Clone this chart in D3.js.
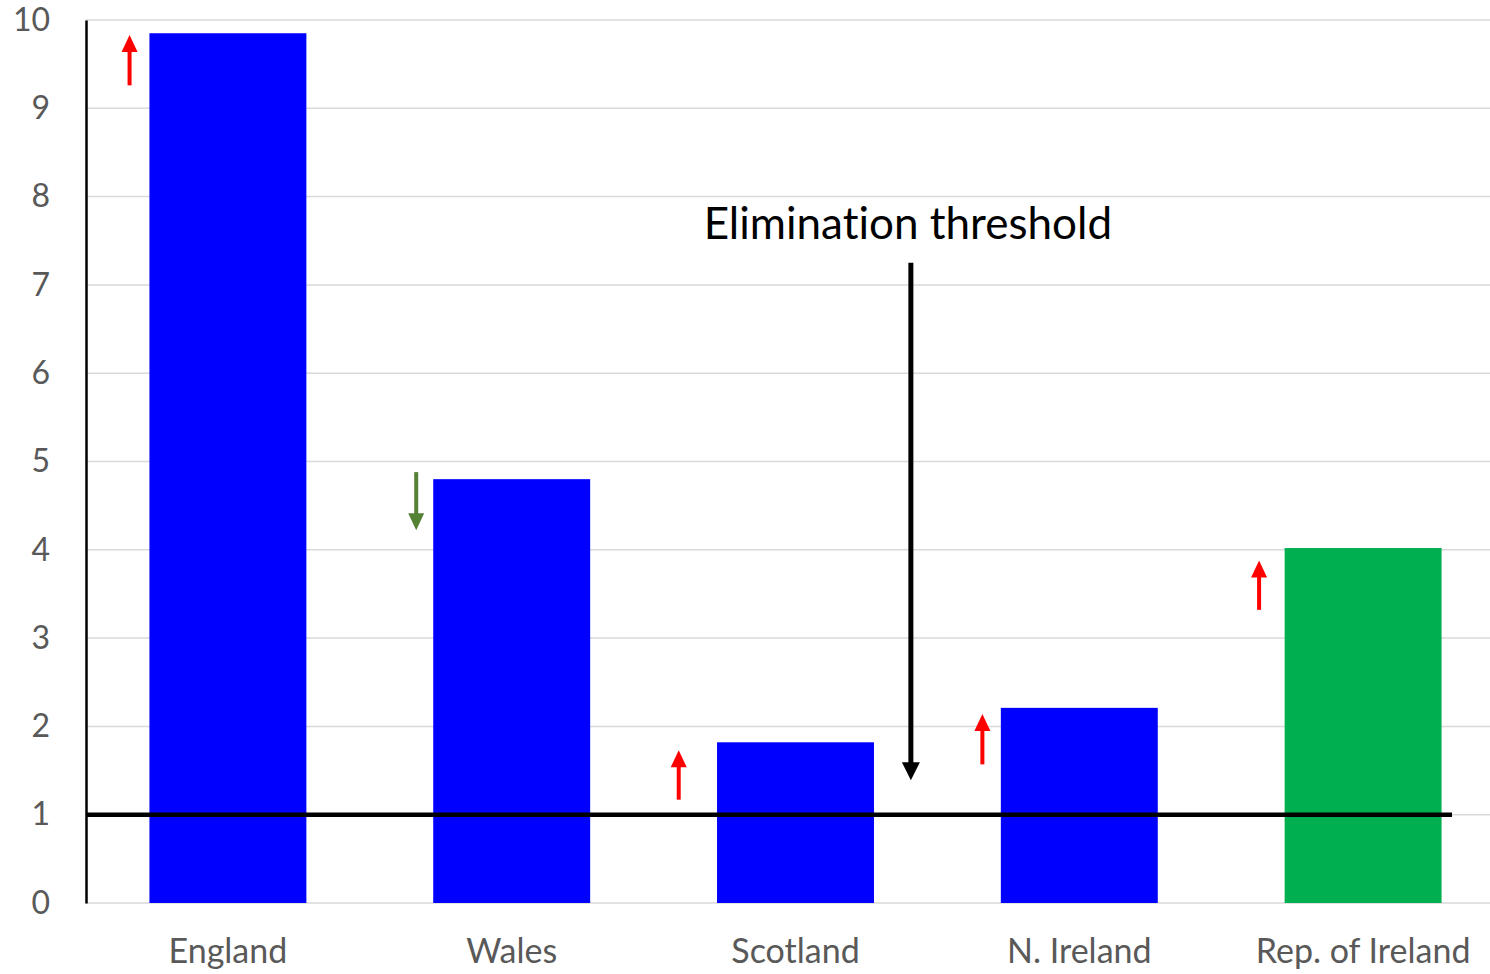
<!DOCTYPE html>
<html>
<head>
<meta charset="utf-8">
<script src="https://cdn.jsdelivr.net/npm/d3@7"></script>
<style>
  html, body { margin: 0; padding: 0; background: #fff; }
  svg { display: block; }
  text { font-variant-ligatures: none; }
</style>
</head>
<body>
<svg width="1490" height="974"></svg>
<script>
// chart data
var countries = ['England', 'Wales', 'Scotland', 'N. Ireland', 'Rep. of Ireland'];
var values = [9.85, 4.8, 1.82, 2.21, 4.02];
var barColors = ['#0000ff', '#0000ff', '#0000ff', '#0000ff', '#00b050'];
var yTicks = [0, 1, 2, 3, 4, 5, 6, 7, 8, 9, 10];
var threshold = 1;

// trend arrows next to each bar: start value -> end value
var trendFrom = [9.26, 4.88, 1.17, 1.57, 3.32];
var trendTo = [9.83, 4.22, 1.73, 2.14, 3.88];
var trendShift = [-0.07, -0.06, -0.135, -0.065, -0.09]; // fraction of band step, left of bar
var trendColors = ['#ff0000', '#548235', '#ff0000', '#ff0000', '#ff0000'];

var note = 'Elimination threshold';
var noteFrom = 7.25, noteTo = 1.39;

var svg = d3.select('svg');
var plotLeft = 86, plotTop = 20, plotBottom = 903;

var x = d3.scaleBand().domain(countries).range([plotLeft, 1505]).paddingInner(0.447).paddingOuter(0.2235);
var y = d3.scaleLinear().domain([0, 10]).range([plotBottom, plotTop]);

// gridlines
svg.append('g').selectAll('line').data(yTicks).join('line')
  .attr('x1', plotLeft).attr('x2', 1490)
  .attr('y1', d => y(d)).attr('y2', d => y(d))
  .attr('stroke', '#d9d9d9').attr('stroke-width', 1.5);

// y axis
var yAxis = svg.append('g').attr('transform', 'translate(' + plotLeft + ',0)')
  .call(d3.axisLeft(y).tickValues(yTicks).tickSize(0).tickPadding(36));
yAxis.select('.domain').attr('stroke', '#000').attr('stroke-width', 2.5);
yAxis.selectAll('text').attr('fill', '#595959')
  .style('font-family', 'Lato, "Open Sans", sans-serif').style('font-size', '32px');

// bars
svg.append('g').selectAll('rect').data(countries).join('rect')
  .attr('x', d => x(d)).attr('width', x.bandwidth())
  .attr('y', (d, i) => y(values[i])).attr('height', (d, i) => y(0) - y(values[i]))
  .attr('fill', (d, i) => barColors[i]);

// x axis labels
var xAxis = svg.append('g').attr('transform', 'translate(0,' + plotBottom + ')')
  .call(d3.axisBottom(x).tickSize(0).tickPadding(36));
xAxis.select('.domain').remove();
xAxis.selectAll('text').attr('fill', '#595959')
  .style('font-family', 'Lato, "Open Sans", sans-serif').style('font-size', '34px');

// threshold line
svg.append('line')
  .attr('x1', plotLeft).attr('x2', 1452)
  .attr('y1', y(threshold)).attr('y2', y(threshold))
  .attr('stroke', '#000').attr('stroke-width', 4.5);

// arrow helper
function arrow(g, xp, y0, y1, color, shaft, headW, headL) {
  var dir = y1 < y0 ? 1 : -1;
  g.append('line').attr('x1', xp).attr('x2', xp)
    .attr('y1', y0).attr('y2', y1 + dir * headL * 0.9)
    .attr('stroke', color).attr('stroke-width', shaft);
  g.append('path')
    .attr('d', 'M' + (xp - headW / 2) + ',' + (y1 + dir * headL) + 'L' + xp + ',' + y1 + 'L' + (xp + headW / 2) + ',' + (y1 + dir * headL) + 'Z')
    .attr('fill', color);
}

var step = x.step();
var trends = svg.append('g');
countries.forEach(function (c, i) {
  arrow(trends, x(c) + trendShift[i] * step, y(trendFrom[i]), y(trendTo[i]), trendColors[i], 4, 16, 17);
});

// annotation
var noteX = x('Scotland') + x.bandwidth() + 0.13 * step;
arrow(svg.append('g'), noteX, y(noteFrom), y(noteTo), '#000', 5, 18, 18);
svg.append('text')
  .attr('x', noteX - 3).attr('y', y(7.52))
  .attr('text-anchor', 'middle')
  .attr('fill', '#000')
  .style('font-family', 'Lato, "Open Sans", sans-serif').style('font-size', '44px')
  .text(note);
</script>
</body>
</html>
